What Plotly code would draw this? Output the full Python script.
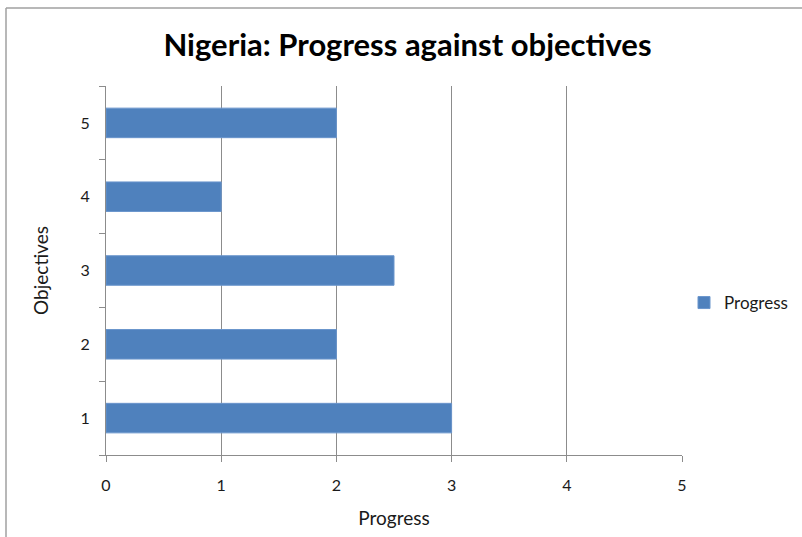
import plotly.graph_objects as go

objectives = ["1", "2", "3", "4", "5"]
progress = [3, 2, 2.5, 1, 2]
x_ticks = [0, 1, 2, 3, 4, 5]

W, H = 802, 537
L, R, T, B = 106, 120, 86, 82
pw, ph = W - L - R, H - T - B

def px(x):
    return (x - L) / pw

def py(y):
    return (H - B - y) / ph

fig = go.Figure()
fig.add_trace(go.Bar(
    y=objectives, x=progress, orientation="h", name="Progress",
    marker=dict(color="#4F81BD", line=dict(color="#6A95CC", width=1)),
    width=0.4, showlegend=True,
))

fig.update_layout(
    width=W, height=H,
    margin=dict(l=L, r=R, t=T, b=B, autoexpand=False),
    paper_bgcolor="white", plot_bgcolor="white",
    font=dict(family="Lato, Open Sans, sans-serif", color="#1a1a1a", size=16),
    title=dict(text="<b>Nigeria: Progress against objectives</b>",
               x=0.5 * (px(165) + px(650)), xref="paper", xanchor="center",
               y=1 - 45 / H, yanchor="middle",
               font=dict(size=31, color="black")),
    xaxis=dict(range=[0, 5], tickvals=x_ticks, ticktext=[str(v) for v in x_ticks],
               showgrid=True, gridcolor="#8c8c8c", gridwidth=1,
               showline=True, linecolor="#8c8c8c", linewidth=1,
               ticks="outside", ticklen=6, tickcolor="#8c8c8c",
               zeroline=False, tickfont=dict(size=16), ticklabelstandoff=10,
               title=dict(text="Progress", font=dict(size=19), standoff=18)),
    yaxis=dict(type="category", categoryorder="array", categoryarray=objectives,
               showgrid=False, showline=True, linecolor="#8c8c8c", linewidth=1,
               ticks="outside", ticklen=6, tickcolor="#8c8c8c", tickson="boundaries",
               tickfont=dict(size=16), ticklabelstandoff=12,
               title=dict(text="Objectives", font=dict(size=19), standoff=26)),
    legend=dict(x=px(684), y=py(303), xanchor="left", yanchor="middle",
                font=dict(size=17), bgcolor="rgba(0,0,0,0)", itemwidth=30),
    bargap=0.6,
    shapes=[
        dict(type="line", xref="paper", yref="paper", x0=px(6), x1=px(802), y0=py(8), y1=py(8),
             line=dict(color="#a0a0a0", width=1.5)),
        dict(type="line", xref="paper", yref="paper", x0=px(6), x1=px(6), y0=py(8), y1=py(537),
             line=dict(color="#a0a0a0", width=1.5)),
    ],
)

fig.write_html("out.html")
